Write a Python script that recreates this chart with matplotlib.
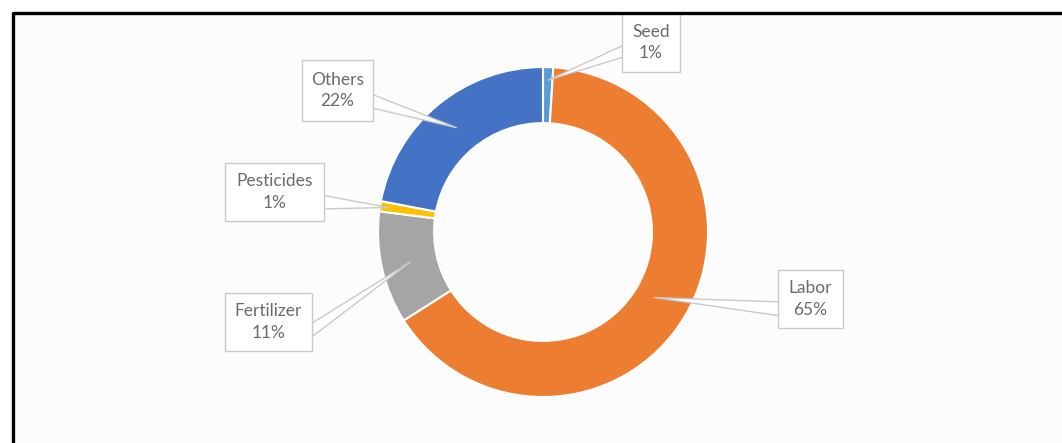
import numpy as np
import matplotlib.pyplot as plt
from matplotlib.patches import Rectangle, Polygon
from matplotlib.lines import Line2D

# data
categories = ["Seed", "Labor", "Fertilizer", "Pesticides", "Others"]
shares = [1, 65, 11, 1, 22]
colors = ["#5B9BD5", "#ED7D31", "#A5A5A5", "#FFC000", "#4472C4"]

# layout (pixels): figure 1062x443, donut centre and radius
W, H = 1062, 443
cx, cy, R = 543, 232, 165

def px(x, y):
    # pixel coords -> data coords (donut radius = 1)
    return (x - cx) / R, (cy - y) / R

fig = plt.figure(figsize=(W / 100, H / 100), dpi=100)
fig.patch.set_facecolor("white")
ax = fig.add_axes([0, 0, 1, 1])

# off-white chart area inside the frame
ax.add_patch(Rectangle(px(13, H), (W - 13) / R, (H - 13) / R,
                       facecolor="#fcfcfc", edgecolor="none", zorder=0))

wedges, _ = ax.pie(shares, colors=colors, startangle=90, counterclock=False,
                   radius=1.0, center=(0, 0), frame=True,
                   wedgeprops=dict(width=0.34, edgecolor="white", linewidth=1.5))
ax.set_xlim(-cx / R, (W - cx) / R)
ax.set_ylim((cy - H) / R, cy / R)
ax.set_aspect("auto")
ax.axis("off")

# label boxes: (left, top, right, bottom) in pixels, pointer base side
boxes = {
    "Seed": (622, 13, 680, 72, "left"),
    "Labor": (778, 270, 843, 328, "left"),
    "Fertilizer": (225, 293, 312, 351, "right"),
    "Pesticides": (225, 163, 324, 221, "right"),
    "Others": (302, 60, 373, 121, "right"),
}
tip_r = {"Seed": 0.92, "Labor": 0.78, "Fertilizer": 0.82, "Pesticides": 0.95, "Others": 0.82}

for w, name, val in zip(wedges, categories, shares):
    l, t, r, b, side = boxes[name]
    ang = np.deg2rad((w.theta1 + w.theta2) / 2)
    tip = (tip_r[name] * np.cos(ang), tip_r[name] * np.sin(ang))
    ymid = (t + b) / 2
    if side == "left":
        base = [px(l + 3, ymid + 3), px(l + 3, ymid + 17)]
    else:
        base = [px(r - 3, ymid + 3), px(r - 3, ymid + 17)]
    if name == "Seed":
        base = [px(l + 3, ymid + 2), px(l + 3, ymid + 14)]
    ax.add_patch(Polygon([base[0], tip, base[1]], closed=True, facecolor="white",
                         edgecolor="#c9c9c9", linewidth=1.0, zorder=4))
    x0, y0 = px(l, b)
    ax.add_patch(Rectangle((x0, y0), (r - l) / R, (b - t) / R, facecolor="white",
                           edgecolor="#c9c9c9", linewidth=1.0, zorder=5))
    tx, ty = px((l + r) / 2, ymid)
    ax.text(tx, ty, f"{name}\n{val}%", ha="center", va="center", fontsize=12.5,
            family="Lato", color="#6b6b6b", linespacing=1.45, zorder=6)

# frame: left and top black lines only
fig.add_artist(Line2D([12.5 / W, 12.5 / W, 1], [0, 1 - 12.5 / H, 1 - 12.5 / H],
                      color="black", linewidth=2.4, transform=fig.transFigure))

fig.savefig("out.png", dpi=100, facecolor=fig.get_facecolor())
